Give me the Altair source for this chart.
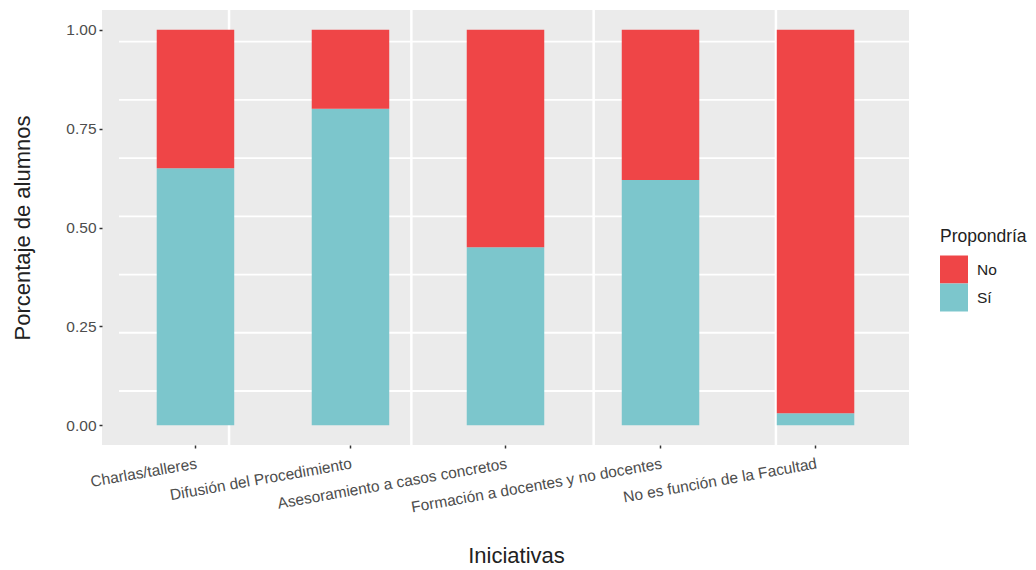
import altair as alt
import pandas as pd

categories = [
    "Charlas/talleres",
    "Difusión del Procedimiento",
    "Asesoramiento a casos concretos",
    "Formación a docentes y no docentes",
    "No es función de la Facultad",
]
si_values = [0.65, 0.80, 0.45, 0.62, 0.03]
no_values = [0.35, 0.20, 0.55, 0.38, 0.97]
groups = ["No", "Sí"]
y_ticks = [0, 0.25, 0.5, 0.75, 1.0]

# decorative panel grid positions (on their own auxiliary scales)
hgrid_pos = [0, 1, 2, 3, 4, 5, 6]
vgrid_pos = [0, 1, 2, 3]

rows = []
for c, s, n in zip(categories, si_values, no_values):
    rows.append({"Iniciativa": c, "Propondría": "Sí", "valor": s, "orden": 0})
    rows.append({"Iniciativa": c, "Propondría": "No", "valor": n, "orden": 1})
df = pd.DataFrame(rows)

FONT = "Liberation Sans"
W, H = 807, 435

hgrid = alt.Chart(pd.DataFrame({"g": hgrid_pos})).mark_rule(
    color="white", strokeWidth=1.8
).encode(
    y=alt.Y("g:Q", scale=alt.Scale(domain=[-0.928, 6.545], nice=False, zero=False), axis=None),
    x=alt.value(17),
    x2=alt.value(W),
)

vgrid = alt.Chart(pd.DataFrame({"g": vgrid_pos})).mark_rule(
    color="white", strokeWidth=2.5
).encode(
    x=alt.X("g:Q", scale=alt.Scale(domain=[-0.697, 3.730], nice=False, zero=False), axis=None),
)

bars = alt.Chart(df).mark_bar().encode(
    x=alt.X(
        "Iniciativa:N",
        sort=categories,
        scale=alt.Scale(paddingInner=0.5, paddingOuter=0.353),
        axis=alt.Axis(
            title="Iniciativas",
            labelAngle=-10,
            labelAlign="right",
            labelBaseline="top",
            labelPadding=8,
            labelFontSize=15.5,
            labelColor="#4D4D4D",
            labelFont=FONT,
            tickSize=3,
            tickWidth=1.5,
            tickColor="#333333",
            domain=False,
            grid=False,
            titleFont=FONT,
            titleFontSize=22,
            titleFontWeight="normal",
            titleColor="#222222",
            titleX=414,
            titleY=117,
            titleBaseline="alphabetic",
            labelLimit=400,
        ),
    ),
    y=alt.Y(
        "valor:Q",
        stack="zero",
        scale=alt.Scale(domain=[-0.05, 1.05], nice=False, zero=False),
        axis=alt.Axis(
            title="Porcentaje de alumnos",
            values=y_ticks,
            format=".2f",
            labelFontSize=15.5,
            labelColor="#4D4D4D",
            labelFont=FONT,
            labelPadding=3,
            tickSize=3,
            tickWidth=1.5,
            tickColor="#333333",
            domain=False,
            grid=False,
            titleFont=FONT,
            titleFontSize=22,
            titleFontWeight="normal",
            titleColor="#222222",
            titleX=-80,
            titleY=H / 2,
            titleAlign="center",
            titleBaseline="middle",
        ),
    ),
    color=alt.Color(
        "Propondría:N",
        scale=alt.Scale(domain=groups, range=["#EF4547", "#7CC6CC"]),
        legend=alt.Legend(
            title="Propondría",
            orient="none",
            legendX=838,
            legendY=218,
            symbolType="square",
            symbolSize=784,
            symbolStrokeWidth=0,
            rowPadding=0,
            labelOffset=9,
            labelFont=FONT,
            labelFontSize=15.5,
            labelColor="#222222",
            titleFont=FONT,
            titleFontSize=17.5,
            titleFontWeight="normal",
            titleColor="#222222",
            titlePadding=10,
            padding=0,
        ),
    ),
    order=alt.Order("orden:Q"),
)

chart = alt.layer(hgrid, vgrid, bars).resolve_scale(
    x="independent", y="independent"
).properties(
    width=W,
    height=H,
    autosize=alt.AutoSizeParams(type="none"),
    padding={"left": 94, "top": 2, "right": 119, "bottom": 124},
).configure(
    background="white",
    view=alt.ViewConfig(fill="#EBEBEB", stroke=None),
)

chart.save("out.html", embed_options={"renderer": "svg", "actions": False})
